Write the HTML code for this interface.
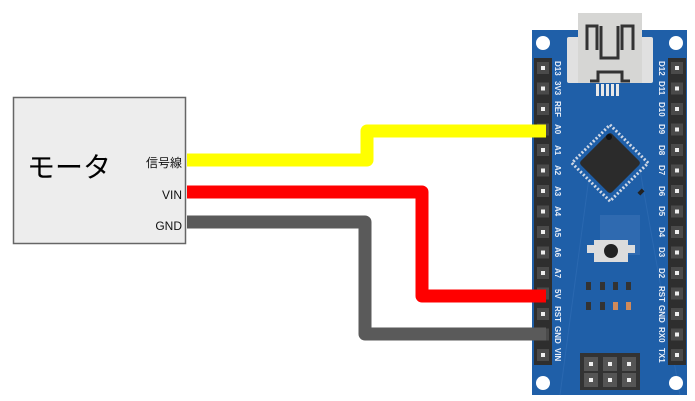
<!DOCTYPE html>
<html><head><meta charset="utf-8"><style>
body{margin:0;width:695px;height:401px;background:#fff;overflow:hidden;font-family:"Liberation Sans","Noto Sans CJK JP",sans-serif}
</style></head><body>
<svg width="695" height="401" viewBox="0 0 695 401" xmlns="http://www.w3.org/2000/svg" style="position:absolute;left:0;top:0">
<!-- motor box -->
<rect x="13.5" y="97.5" width="172" height="146" fill="#ededed" stroke="#666" stroke-width="1.5"/>
<text x="27" y="177" font-size="28" font-family="Liberation Sans, Noto Sans CJK JP, sans-serif" fill="#000">モータ</text>
<text x="182" y="167" font-size="12" text-anchor="end" font-family="Liberation Sans, Noto Sans CJK JP, sans-serif" fill="#111">信号線</text>
<text x="182" y="199" font-size="12" text-anchor="end" font-family="Liberation Sans, sans-serif" fill="#111">VIN</text>
<text x="182" y="230" font-size="12" text-anchor="end" font-family="Liberation Sans, sans-serif" fill="#111">GND</text>
<!-- board -->
<rect x="532" y="30" width="155" height="365" fill="#1f5fa8"/>
<path d="M590 170 L560 395 M640 170 L680 395" stroke="#2a68b0" stroke-width="1" fill="none"/>
<circle cx="543" cy="43" r="7" fill="#fff"/><circle cx="676" cy="43" r="7" fill="#fff"/>
<circle cx="543" cy="383" r="7" fill="#fff"/><circle cx="676" cy="383" r="7" fill="#fff"/>
<!-- USB -->
<rect x="567" y="37" width="86" height="46" fill="#e0e0e0" rx="2"/>
<rect x="578" y="13" width="64" height="70" fill="#d6d6d4"/>
<path d="M587 50 V26 H597 V50 M622 50 V26 H633 V50 M601 26 V58 H618 V26" stroke="#333" stroke-width="3" fill="none"/>
<path d="M590 81 H598 V72 H622 V81 H630" stroke="#333" stroke-width="3" fill="none"/>
<g fill="#e8e8e8"><rect x="596" y="84" width="3" height="12"/><rect x="601" y="84" width="3" height="12"/><rect x="606" y="84" width="3" height="12"/><rect x="611" y="84" width="3" height="12"/><rect x="616" y="84" width="3" height="12"/></g>
<!-- chip -->
<g transform="translate(610,163) rotate(45)">
<rect x="-27" y="-27" width="54" height="54" fill="none" stroke="#cfd8e6" stroke-width="3" stroke-dasharray="2,2"/>
<rect x="-22" y="-22" width="44" height="44" fill="#2b2b2b" rx="3"/>
</g>
<circle cx="609" cy="137" r="3" fill="#111"/>
<rect x="638" y="190" width="6" height="4" fill="#222" transform="rotate(-45 641 192)"/>
<!-- button -->
<rect x="600" y="215" width="40" height="40" fill="#3a72b5" opacity="0.6"/>
<rect x="587" y="245" width="8" height="8" fill="#ddd"/><rect x="627" y="245" width="8" height="8" fill="#ddd"/>
<rect x="594" y="240" width="34" height="22" fill="#dcdcdc"/>
<circle cx="611" cy="251" r="7" fill="#222"/>
<!-- smd -->
<g fill="#333"><rect x="586" y="282" width="5" height="8"/><rect x="600" y="282" width="5" height="8"/><rect x="613" y="282" width="5" height="8"/><rect x="626" y="282" width="5" height="8"/>
<rect x="586" y="302" width="5" height="8"/><rect x="600" y="302" width="5" height="8"/></g>
<rect x="613" y="302" width="5" height="8" fill="#d08a5a"/><rect x="626" y="302" width="5" height="8" fill="#d08a5a"/>
<!-- ICSP -->
<rect x="580" y="353" width="60" height="37" fill="#333"/>
<g fill="#555"><rect x="584" y="357" width="14" height="14"/><rect x="603" y="357" width="14" height="14"/><rect x="622" y="357" width="14" height="14"/>
<rect x="584" y="373" width="14" height="14"/><rect x="603" y="373" width="14" height="14"/><rect x="622" y="373" width="14" height="14"/></g>
<g fill="#eee"><rect x="589" y="362" width="4" height="4"/><rect x="608" y="362" width="4" height="4"/><rect x="627" y="362" width="4" height="4"/>
<rect x="589" y="378" width="4" height="4"/><rect x="608" y="378" width="4" height="4"/><rect x="627" y="378" width="4" height="4"/></g>
<!-- headers -->
<rect x="534" y="58" width="18" height="307" fill="#2e2e2e"/>
<rect x="668" y="58" width="18" height="307" fill="#2e2e2e"/>
<g id="pins"></g>
</svg>
<div id="lbl"></div>
<svg width="695" height="401" style="position:absolute;left:0;top:0" xmlns="http://www.w3.org/2000/svg">
<g fill="none" stroke-width="13" stroke-linejoin="round">
<path d="M187 160 H367 V131 H546" stroke="#ffff00"/>
<path d="M187 192 H422 V296 H546" stroke="#ff0000"/>
<path d="M187 222 H365 V334 H546" stroke="#5a5a5a"/>
</g>
</svg>
<script>
var L=["D13","3V3","REF","A0","A1","A2","A3","A4","A5","A6","A7","5V","RST","GND","VIN"];
var R=["D12","D11","D10","D9","D8","D7","D6","D5","D4","D3","D2","RST","GND","RX0","TX1"];
var g=document.getElementById("pins"),s="",h="";
for(var i=0;i<15;i++){var y=68+i*20.5;
s+='<rect x="537" y="'+(y-6)+'" width="12" height="12" fill="#4a4a4a"/><rect x="541" y="'+(y-2)+'" width="4" height="4" fill="#eee"/>';
s+='<rect x="671" y="'+(y-6)+'" width="12" height="12" fill="#4a4a4a"/><rect x="675" y="'+(y-2)+'" width="4" height="4" fill="#eee"/>';
h+='<div style="position:absolute;left:550px;top:'+(y-10)+'px;width:14px;height:20px;writing-mode:vertical-rl;font-size:8px;font-weight:bold;color:#e8eef8;text-align:center;line-height:14px">'+L[i]+'</div>';
h+='<div style="position:absolute;left:654px;top:'+(y-10)+'px;width:14px;height:20px;writing-mode:vertical-rl;font-size:8px;font-weight:bold;color:#e8eef8;text-align:center;line-height:14px">'+R[i]+'</div>';}
g.innerHTML=s;document.getElementById("lbl").innerHTML=h;
</script>
</body></html>
